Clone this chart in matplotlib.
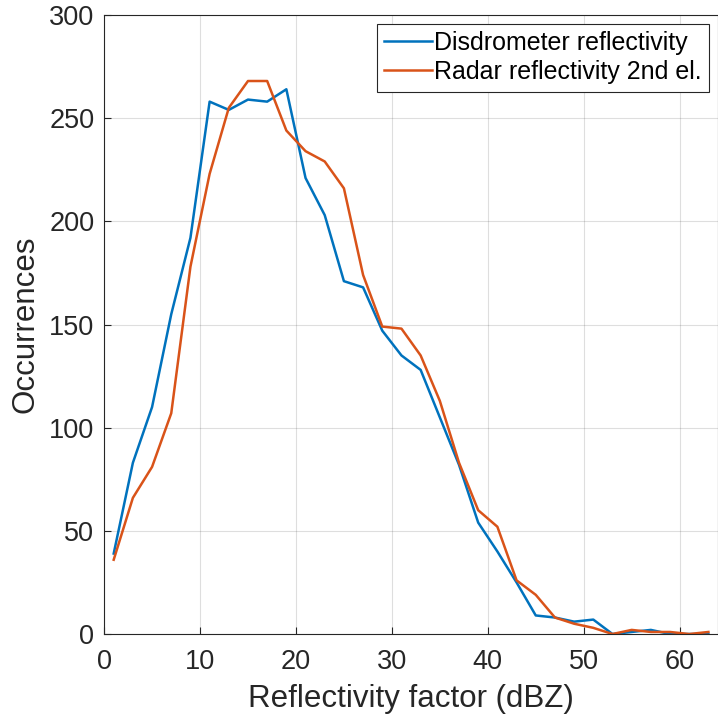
import numpy as np
import matplotlib.pyplot as plt

plt.rcParams['font.family'] = ['Liberation Sans', 'DejaVu Sans']

# bin centres (dBZ)
x = np.arange(1, 64, 2)

disdrometer = [39, 83, 110, 155, 192, 258, 254, 259, 258, 264,
               221, 203, 171, 168, 147, 135, 128, 105, 82, 54,
               40, 25, 9, 8, 6, 7, 0, 1, 2, 0, 0, 0]
radar = [36, 66, 81, 107, 178, 223, 255, 268, 268, 244,
         234, 229, 216, 174, 149, 148, 135, 113, 83, 60,
         52, 26, 19, 8, 5, 3, 0, 2, 1, 1, 0, 1]

fig = plt.figure(figsize=(7.18, 7.2), dpi=100)
ax = fig.add_axes([0.145, 0.1194, 0.855, 0.8598])

ax.plot(x, disdrometer, color="#0072BD", lw=1.8, label="Disdrometer reflectivity")
ax.plot(x, radar, color="#D95319", lw=1.8, label="Radar reflectivity 2nd el.")

ax.set_xlim(0, 64)
ax.set_ylim(0, 300)
ax.set_xticks(range(0, 61, 10))
ax.set_yticks(range(0, 301, 50))
ax.grid(True, color="#262626", alpha=0.15, lw=0.8)
ax.tick_params(direction="in", length=5, labelsize=19.5, colors="#262626")
ax.tick_params(axis="x", pad=11)
ax.tick_params(axis="y", pad=7)
for s in ax.spines.values():
    s.set_color("#262626")
    s.set_linewidth(0.8)

ax.set_xlabel("Reflectivity factor (dBZ)", fontsize=22.5, color="#262626", labelpad=6)
ax.set_ylabel("Occurrences", fontsize=22.5, color="#262626", labelpad=6)

leg = ax.legend(loc="upper right", fontsize=18, fancybox=False, framealpha=1,
                edgecolor="#262626", handlelength=1.9, handletextpad=0.1,
                borderaxespad=0.35, labelspacing=0.2, borderpad=0.3)
leg.get_frame().set_linewidth(0.8)

plt.savefig("out.png", dpi=100)
